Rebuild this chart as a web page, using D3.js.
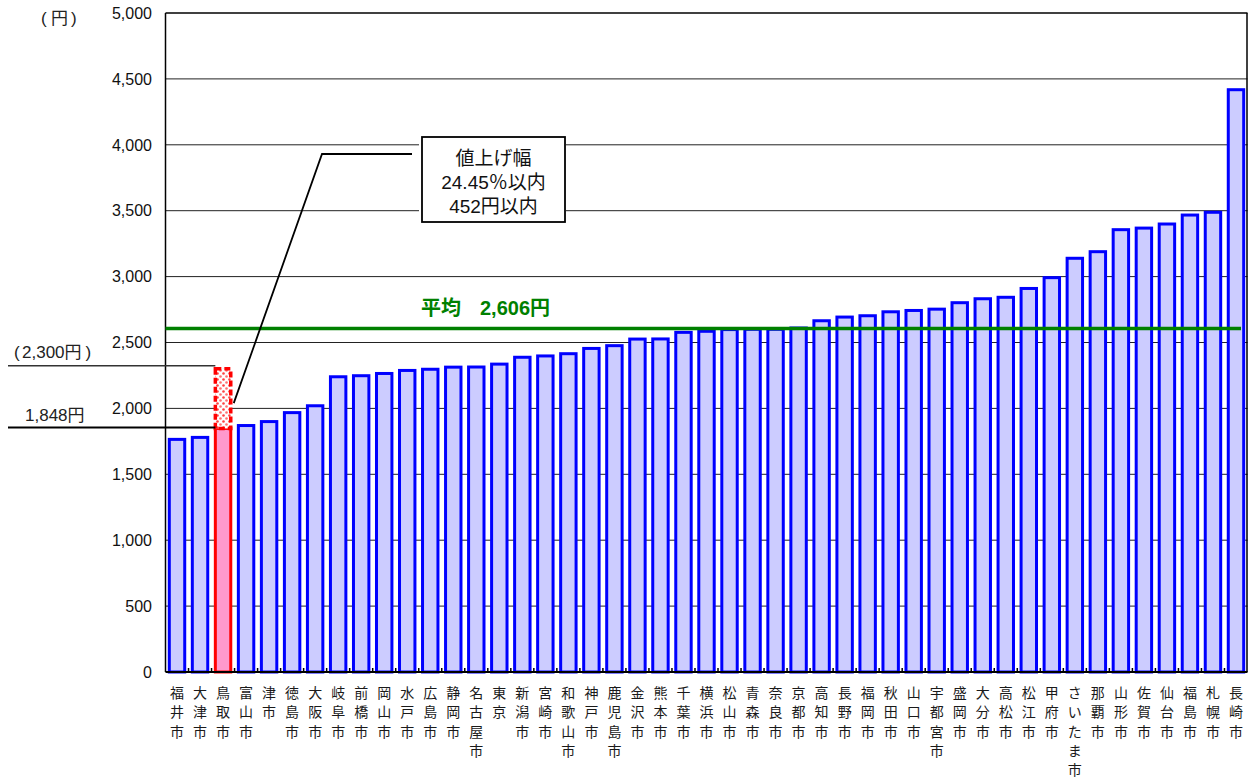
<!DOCTYPE html>
<html lang="ja">
<head>
<meta charset="utf-8">
<script src="https://cdn.jsdelivr.net/npm/d3@7/dist/d3.min.js"></script>
<style>
  html, body { margin: 0; padding: 0; background: #fff; }
  svg { display: block; }
  text { font-family: "Liberation Sans", Arial, "Noto Sans CJK JP", sans-serif; }
  .cjk { font-family: "Noto Sans CJK JP", sans-serif; }
</style>
</head>
<body>
<svg id="chart" width="1249" height="778"></svg>
<script>
// 都市別料金（円）
const cities = ["福井市","大津市","鳥取市","富山市","津市","徳島市","大阪市","岐阜市","前橋市","岡山市",
  "水戸市","広島市","静岡市","名古屋市","東京","新潟市","宮崎市","和歌山市","神戸市","鹿児島市",
  "金沢市","熊本市","千葉市","横浜市","松山市","青森市","奈良市","京都市","高知市","長野市",
  "福岡市","秋田市","山口市","宇都宮市","盛岡市","大分市","高松市","松江市","甲府市","さいたま市",
  "那覇市","山形市","佐賀市","仙台市","福島市","札幌市","長崎市"];
const fees = [1765,1780,1848,1870,1900,1968,2020,2240,2248,2265,
  2288,2297,2313,2314,2336,2388,2398,2415,2455,2476,
  2526,2527,2577,2585,2598,2600,2600,2610,2665,2693,
  2703,2733,2743,2753,2802,2832,2843,2910,2992,3139,
  3189,3356,3368,3399,3467,3488,4418];
const yTicks = [0,500,1000,1500,2000,2500,3000,3500,4000,4500,5000];
const average = 2606;
const highlightCity = "鳥取市";
const proposedFee = 2300;
const calloutLines = ["値上げ幅", "24.45％以内", "452円以内"];

const svg = d3.select("#chart");
const plotLeft = 165.5, plotRight = 1247.5, plotTop = 13, plotBottom = 672;

const x = d3.scaleBand().domain(cities).range([plotLeft, plotRight]).paddingInner(0.33).paddingOuter(0.165);
const y = d3.scaleLinear().domain([0, 5000]).range([plotBottom, plotTop]);
const step = x.step();

// dotted fill for the proposed increase
const defs = svg.append("defs");
const pat = defs.append("pattern").attr("id", "dots").attr("patternUnits", "userSpaceOnUse")
  .attr("width", 6).attr("height", 6);
pat.append("rect").attr("width", 6).attr("height", 6).attr("fill", "#fff");
pat.append("circle").attr("cx", 1.5).attr("cy", 1.5).attr("r", 1.3).attr("fill", "#ff4040");
pat.append("circle").attr("cx", 4.5).attr("cy", 4.5).attr("r", 1.3).attr("fill", "#ff7070");

// gridlines
svg.append("g").selectAll("line").data(yTicks.filter(d => d > 0 && d < 5000)).join("line")
  .attr("x1", plotLeft).attr("x2", plotRight)
  .attr("y1", d => y(d)).attr("y2", d => y(d))
  .attr("stroke", "#222").attr("stroke-width", 1);

// y axis labels
svg.append("g").selectAll("text").data(yTicks).join("text")
  .attr("x", 152).attr("y", d => y(d)).attr("dy", "0.36em")
  .attr("text-anchor", "end").attr("font-size", 16).attr("fill", "#111")
  .text(d => d3.format(",")(d));

// unit label
const unit = svg.append("text").attr("y", 18).attr("dy", "0.36em").attr("font-size", 17).attr("fill", "#222");
unit.append("tspan").attr("x", 41).text("(");
unit.append("tspan").attr("class", "cjk").attr("x", 51).text("円");
unit.append("tspan").attr("x", 71).text(")");

// bars
svg.append("g").selectAll("rect").data(cities).join("rect")
  .attr("x", d => x(d)).attr("width", x.bandwidth())
  .attr("y", (d, i) => y(fees[i])).attr("height", (d, i) => plotBottom - y(fees[i]))
  .attr("fill", d => d === highlightCity ? "#ff99cc" : "#ccccff")
  .attr("stroke", d => d === highlightCity ? "#ff0000" : "#0000ff")
  .attr("stroke-width", 3);

// proposed increase block
const hi = cities.indexOf(highlightCity);
svg.append("rect")
  .attr("x", x(highlightCity)).attr("width", x.bandwidth())
  .attr("y", y(proposedFee)).attr("height", y(fees[hi]) - y(proposedFee))
  .attr("fill", "url(#dots)").attr("stroke", "#ff0000").attr("stroke-width", 3.5)
  .attr("stroke-dasharray", "6,3");

// frame & axes
svg.append("line").attr("x1", plotLeft).attr("x2", plotLeft).attr("y1", plotTop).attr("y2", plotBottom)
  .attr("stroke", "#000").attr("stroke-width", 1.5);
svg.append("line").attr("x1", plotLeft).attr("x2", plotRight).attr("y1", plotTop).attr("y2", plotTop)
  .attr("stroke", "#000").attr("stroke-width", 1.5);
svg.append("line").attr("x1", plotRight - 0.5).attr("x2", plotRight - 0.5).attr("y1", plotTop).attr("y2", plotBottom)
  .attr("stroke", "#000").attr("stroke-width", 1.5);
svg.append("line").attr("x1", plotLeft).attr("x2", plotRight).attr("y1", plotBottom).attr("y2", plotBottom)
  .attr("stroke", "#000").attr("stroke-width", 2);

// category boundary ticks
svg.append("g").selectAll("line").data(cities.slice(1)).join("line")
  .attr("x1", d => x(d) - step * x.paddingInner() / 2)
  .attr("x2", d => x(d) - step * x.paddingInner() / 2)
  .attr("y1", plotBottom - 4).attr("y2", plotBottom)
  .attr("stroke", "#000").attr("stroke-width", 1.5);

// category labels, one character per row
const lab = svg.append("g");
cities.forEach(c => {
  const t = lab.append("text").attr("class", "cjk").attr("text-anchor", "middle")
    .attr("font-size", 14).attr("fill", "#1a1a1a");
  Array.from(c).forEach((ch, k) => {
    t.append("tspan").attr("x", x(c) + x.bandwidth() / 2).attr("y", 693 + k * 19.3).attr("dy", "0.36em").text(ch);
  });
});

// average line
svg.append("line").attr("x1", plotLeft).attr("x2", 1241).attr("y1", y(average)).attr("y2", y(average))
  .attr("stroke", "#008000").attr("stroke-width", 3.5);
const avgText = svg.append("text").attr("x", 421).attr("y", 308).attr("dy", "0.36em")
  .attr("font-size", 20).attr("font-weight", "bold").attr("fill", "#008000");
avgText.append("tspan").text("平均");
avgText.append("tspan").attr("x", 480).text(d3.format(",")(average) + "円");

// reference lines on the left
svg.append("line").attr("x1", 8).attr("x2", x(highlightCity)).attr("y1", y(proposedFee) - 3).attr("y2", y(proposedFee) - 3)
  .attr("stroke", "#333").attr("stroke-width", 1.5);
svg.append("line").attr("x1", 8).attr("x2", x(highlightCity)).attr("y1", y(fees[hi]) - 1).attr("y2", y(fees[hi]) - 1)
  .attr("stroke", "#000").attr("stroke-width", 2);
const pLab = svg.append("text").attr("y", 352).attr("dy", "0.36em").attr("font-size", 17).attr("fill", "#222");
pLab.append("tspan").attr("x", 14).text("(");
pLab.append("tspan").attr("x", 22).text(d3.format(",")(proposedFee));
pLab.append("tspan").attr("class", "cjk").text("円");
pLab.append("tspan").attr("dx", 4).text(")");
const cLab = svg.append("text").attr("x", 25).attr("y", 415).attr("dy", "0.36em").attr("font-size", 17).attr("fill", "#222");
cLab.append("tspan").text(d3.format(",")(fees[hi]));
cLab.append("tspan").attr("class", "cjk").text("円");

// callout
svg.append("polyline")
  .attr("points", [[x(highlightCity) + x.bandwidth() + 3, y(2040)], [322, 154], [412, 154]].map(p => p.join(",")).join(" "))
  .attr("fill", "none").attr("stroke", "#000").attr("stroke-width", 1.8);
svg.append("rect").attr("x", 419).attr("y", 137).attr("width", 147).attr("height", 85).attr("fill", "#fff");
svg.append("rect").attr("x", 422).attr("y", 137).attr("width", 143).attr("height", 85)
  .attr("fill", "#fff").attr("stroke", "#000").attr("stroke-width", 1.8);
svg.append("g").selectAll("text").data(calloutLines).join("text")
  .attr("x", 493.5).attr("y", (d, i) => 158.5 + i * 23.8).attr("dy", "0.36em")
  .attr("text-anchor", "middle").attr("font-size", 19).attr("fill", "#111")
  .text(d => d);
</script>
</body>
</html>
